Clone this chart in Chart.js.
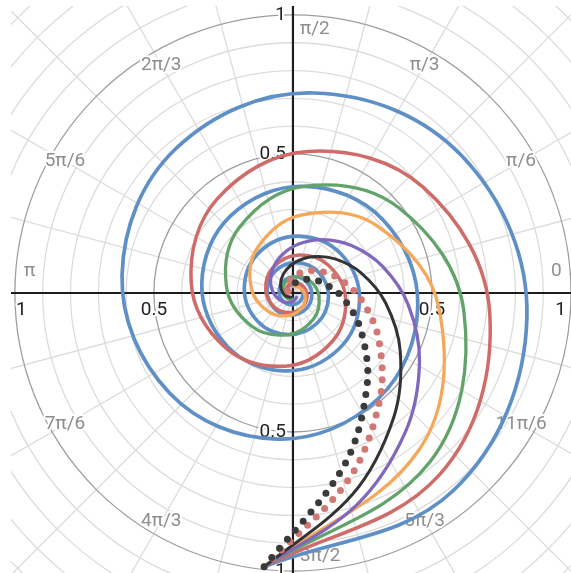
<!DOCTYPE html>
<html><head><meta charset="utf-8">
<script src="https://cdn.jsdelivr.net/npm/chart.js@4.4.0/dist/chart.umd.min.js"></script>
<style>html,body{margin:0;padding:0;background:#fff;}#wrap{width:571px;height:573px;}</style>
</head><body><div id="wrap"><canvas id="c" width="571" height="573"></canvas></div>
<script>
// ---- data: spiral radii read at fixed polar angles (degrees) ----
const anglesCoarse = [-96,-51,-6,39,84,129,174,219,264,309,354,399,444,489,534,579,624,669,714,759,804,849,894,939,984,1029,1074,1119,1164,1209,1254,1299,1344,1389,1434,1479,1524,1569,1614,1659,1704,1749,1794,1839,1884,1929,1974,2019,2064];
const anglesFine = [-96,-73.5,-51,-28.5,-6,16.5,39,61.5,84,106.5,129,151.5,174,196.5,219,241.5,264,286.5,309];

const blueR = [0.990,0.9152,0.8461,0.7822,0.7231,0.6685,0.6180,0.5713,0.5282,0.4883,0.4514,0.4173,0.3858,0.3566,0.3297,0.3048,0.2818,0.2605,0.2408,0.2226,0.2058,0.1903,0.1759,0.1626,0.1503,0.1390,0.1285,0.1188,0.1098,0.1015,0.0938,0.0867,0.0802,0.0741,0.0685,0.0634,0.0586,0.0541,0.0501,0.0463,0.0428,0.0395,0.0366,0.0338,0.0312,0.0289,0.0267,0.0247,0.0228];
const redR = [0.990,0.8395,0.7118,0.6036,0.5118,0.4340,0.3680,0.3121,0.2646,0.2244,0.1903,0.1613,0.1368,0.1160,0.0984,0.0834,0.0707,0.0600,0.0509,0.0431,0.0366,0.0310,0.0263,0.0223];
const greenR = [0.990,0.7822,0.6180,0.4883,0.3858,0.3048,0.2408,0.1903,0.1503,0.1188,0.0938,0.0741,0.0586,0.0463,0.0366,0.0289,0.0228];
const orangeR = [0.990,0.7231,0.5282,0.3858,0.2818,0.2058,0.1503,0.1098,0.0802,0.0586,0.0428,0.0312,0.0228];
const purpleR = [0.990,0.7977,0.6428,0.5179,0.4173,0.3362,0.2710,0.2183,0.1759,0.1417,0.1142,0.0920,0.0742,0.0597,0.0481,0.0388,0.0313,0.0252,0.0203];
const blackR = [0.990,0.7550,0.5758,0.4391,0.3349,0.2554,0.1948,0.1486,0.1133,0.0864,0.0659,0.0503,0.0383,0.0292,0.0223,0.0170];
const redDotR = [0.990,0.7008,0.4960,0.3511,0.2485,0.1759,0.1245,0.0881,0.0624,0.0442,0.0312,0.0221,0.0156];
const blackDotR = [0.990,0.6478,0.4239,0.2774,0.1815,0.1188,0.0777,0.0509,0.0333,0.0218,0.0142];

// ---- grid / tick data ----
const angleLabelDeg = [0,30,60,90,120,150,180,210,240,270,300,330];
const angleLabels = ['0','π/6','π/3','π/2','2π/3','5π/6','π','7π/6','4π/3','3π/2','5π/3','11π/6'];
const radiusTicks = [0.5, 1];
const radiusTickLabels = ['0.5','1'];
const gridCircles = [0.1,0.2,0.3,0.4,0.5,0.6,0.7,0.8,0.9,1.0,1.1,1.2,1.3,1.4,1.5];
const majorCircles = [0.5, 1.0];
const spokeDeg = [0,15,30,45,60,75,90,105,120,135,150,165,180,195,210,225,240,255,270,285,300,315,330,345];

function toXY(angles, radii){
  return radii.map((r,i)=>({x:r*Math.cos(angles[i]*Math.PI/180), y:r*Math.sin(angles[i]*Math.PI/180)}));
}

const polarGrid = {
  id:'polarGrid',
  beforeDatasetsDraw(chart){
    const {ctx, chartArea:a, scales:{x,y}} = chart;
    const cx = x.getPixelForValue(0), cy = y.getPixelForValue(0);
    const ppu = x.getPixelForValue(1) - cx;
    ctx.save();
    ctx.beginPath(); ctx.rect(a.left,a.top,a.right-a.left,a.bottom-a.top); ctx.clip();
    // spokes
    ctx.strokeStyle = '#dcdcdc'; ctx.lineWidth = 1.3;
    spokeDeg.forEach(d=>{
      const t = d*Math.PI/180;
      ctx.beginPath(); ctx.moveTo(cx,cy);
      ctx.lineTo(x.getPixelForValue(1.6*Math.cos(t)), y.getPixelForValue(1.6*Math.sin(t)));
      ctx.stroke();
    });
    // minor circles
    gridCircles.forEach(r=>{
      if (majorCircles.some(m=>Math.abs(m-r)<1e-6)) return;
      ctx.beginPath(); ctx.arc(cx,cy,r*ppu,0,Math.PI*2); ctx.stroke();
    });
    // major circles
    ctx.strokeStyle = '#9e9e9e'; ctx.lineWidth = 1.3;
    majorCircles.forEach(r=>{ ctx.beginPath(); ctx.arc(cx,cy,r*ppu,0,Math.PI*2); ctx.stroke(); });
    // axes
    ctx.strokeStyle = '#1e1e1e'; ctx.lineWidth = 2.2;
    ctx.beginPath(); ctx.moveTo(a.left,cy); ctx.lineTo(a.right,cy); ctx.stroke();
    ctx.beginPath(); ctx.moveTo(cx,a.top); ctx.lineTo(cx,a.bottom); ctx.stroke();
    // angle labels
    ctx.font = '19px Roboto';
    ctx.lineJoin = 'round';
    const halo = (txt,px,py)=>{ ctx.strokeStyle='#fff'; ctx.lineWidth=4; ctx.strokeText(txt,px,py); ctx.fillText(txt,px,py); };
    ctx.fillStyle = '#8e8e8e'; ctx.textBaseline = 'middle';
    angleLabelDeg.forEach((d,i)=>{
      const t = d*Math.PI/180, rr = 0.947;
      let px = x.getPixelForValue(rr*Math.cos(t)), py = y.getPixelForValue(rr*Math.sin(t));
      ctx.textAlign = 'center';
      if (d===0 || d===180) { py -= 22; }
      if (d===90 || d===270) { px = cx + 7; ctx.textAlign = 'left'; }
      halo(angleLabels[i], px, py);
    });
    // radius labels
    ctx.fillStyle = '#222';
    radiusTicks.forEach((r,i)=>{
      const txt = radiusTickLabels[i];
      const w = ctx.measureText(txt).width;
      [1,-1].forEach(s=>{
        let px = x.getPixelForValue(s*r);
        px = Math.min(Math.max(px, a.left + w/2 + 5), a.right - w/2 - 5);
        ctx.textAlign='center'; ctx.textBaseline='top';
        halo(txt, px, cy + 8);
        ctx.textAlign='right'; ctx.textBaseline='middle';
        halo(txt, cx - 7, y.getPixelForValue(s*r));
      });
    });
    ctx.restore();
  }
};

const base = {showLine:true, pointRadius:0, pointHoverRadius:0, fill:false, borderCapStyle:'round', borderJoinStyle:'round'};
const datasets = [
  Object.assign({}, base, {label:'blackDot', data:toXY(anglesFine, blackDotR), borderColor:'#3a3a3a', borderWidth:7, borderDash:[0,12], tension:0.343}),
  Object.assign({}, base, {label:'redDot', data:toXY(anglesFine, redDotR), borderColor:'#d27874', borderWidth:7, borderDash:[0,12], tension:0.343}),
  Object.assign({}, base, {label:'black', data:toXY(anglesFine, blackR), borderColor:'#333333', borderWidth:3, tension:0.343}),
  Object.assign({}, base, {label:'purple', data:toXY(anglesFine, purpleR), borderColor:'#8069bd', borderWidth:3.3, tension:0.343}),
  Object.assign({}, base, {label:'orange', data:toXY(anglesCoarse, orangeR), borderColor:'#f5a85a', borderWidth:3.3, tension:0.375}),
  Object.assign({}, base, {label:'green', data:toXY(anglesCoarse, greenR), borderColor:'#62a36a', borderWidth:3.3, tension:0.375}),
  Object.assign({}, base, {label:'red', data:toXY(anglesCoarse, redR), borderColor:'#cf6b69', borderWidth:3.5, tension:0.375}),
  Object.assign({}, base, {label:'blue', data:toXY(anglesCoarse, blueR), borderColor:'#5e8fc6', borderWidth:3.7, tension:0.375})
];

new Chart(document.getElementById('c'), {
  type:'scatter',
  data:{datasets},
  options:{
    responsive:false, animation:false, events:[],
    layout:{padding:{left:11, top:6, right:0, bottom:0}},
    plugins:{legend:{display:false}, tooltip:{enabled:false}},
    scales:{
      x:{type:'linear', min:-1.014, max:1.0, display:false},
      y:{type:'linear', min:-1.007, max:1.032, display:false}
    }
  },
  plugins:[polarGrid]
});
</script></body></html>
